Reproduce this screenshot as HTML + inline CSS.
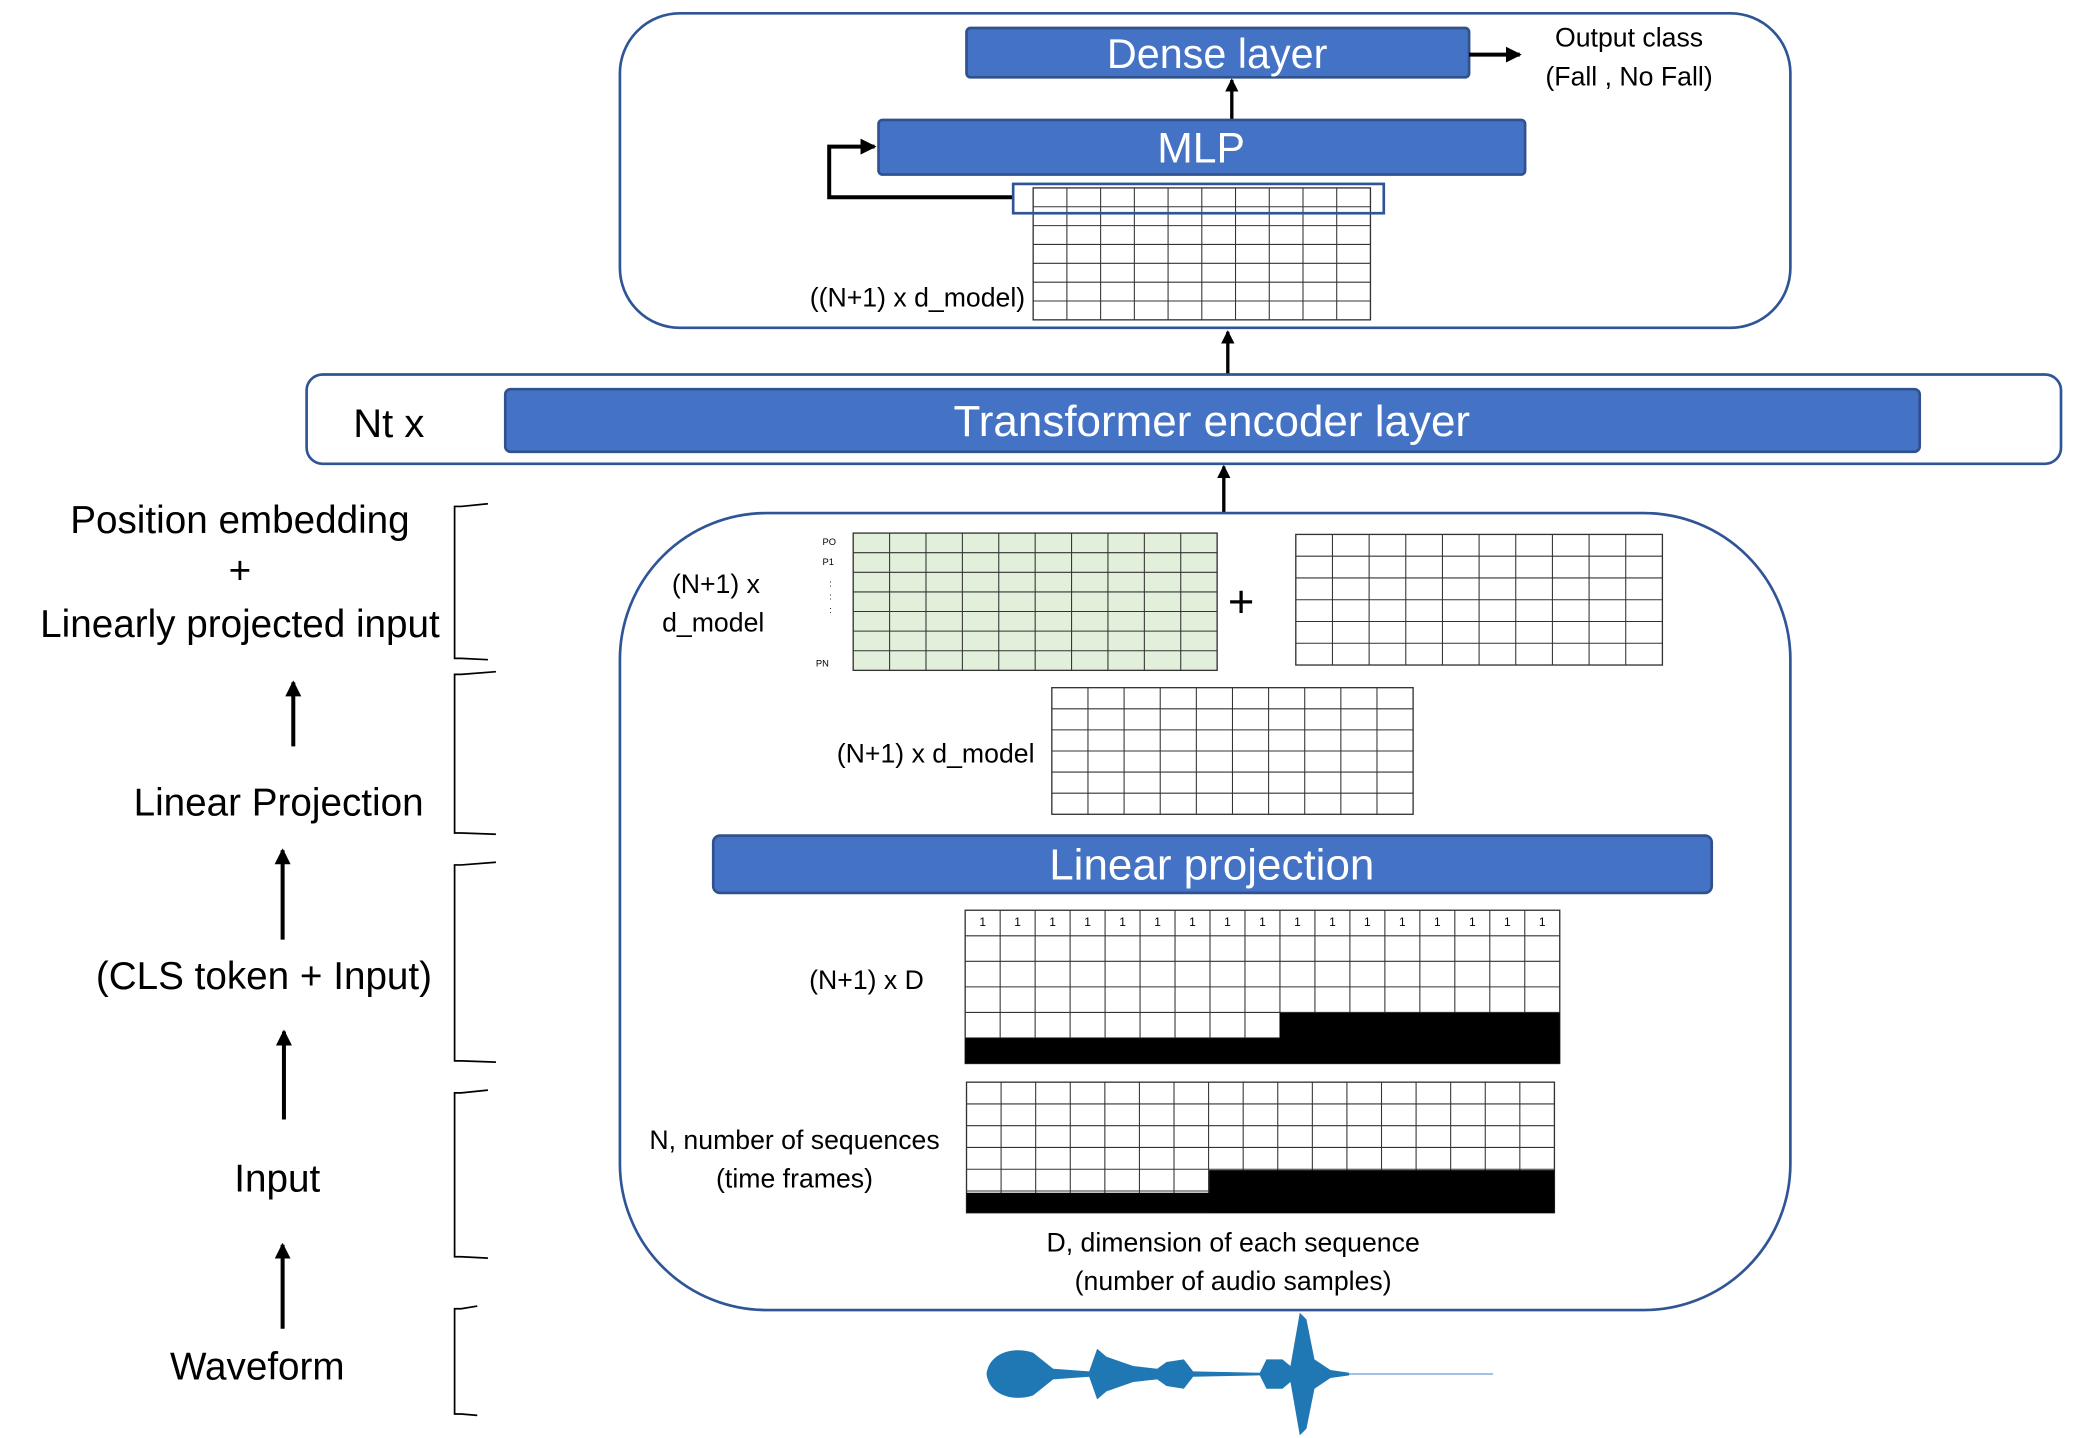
<!DOCTYPE html>
<html><head><meta charset="utf-8"><style>
html,body{margin:0;padding:0;background:#fff;}
svg{display:block}
text{font-family:"Liberation Sans",sans-serif;}
</style></head><body>
<svg id="s" width="2089" height="1438" viewBox="0 0 1567 1079" preserveAspectRatio="none" xmlns="http://www.w3.org/2000/svg">
<defs><marker id="ah" markerWidth="4" markerHeight="4" refX="3.5" refY="2" orient="auto" markerUnits="strokeWidth"><path d="M0,0 L4,2 L0,4 z" fill="#000"/></marker></defs>
<rect x="465" y="10" width="878" height="236" rx="45" fill="none" stroke="#2f5597" stroke-width="2"/>
<rect x="725" y="21" width="377" height="37" rx="3" fill="#4472c4" stroke="#2f528f" stroke-width="2"/>
<text x="913" y="51" font-size="31" fill="#fff" text-anchor="middle">Dense layer</text>
<line x1="1102" y1="41" x2="1140" y2="41" stroke="#000" stroke-width="3" marker-end="url(#ah)"/>
<text x="1222" y="35" font-size="20" text-anchor="middle">Output class</text>
<text x="1222" y="64" font-size="20" text-anchor="middle">(Fall , No Fall)</text>
<line x1="924" y1="90" x2="924" y2="60" stroke="#000" stroke-width="2.5" marker-end="url(#ah)"/>
<rect x="659" y="90" width="485" height="41" rx="3" fill="#4472c4" stroke="#2f528f" stroke-width="2"/>
<text x="901" y="122" font-size="32" fill="#fff" text-anchor="middle">MLP</text>
<polyline points="760,148 622,148 622,110 656,110" fill="none" stroke="#000" stroke-width="3" marker-end="url(#ah)"/>
<g id="g1"></g>
<rect x="760" y="138" width="278" height="22" fill="none" stroke="#2f5597" stroke-width="2"/>
<text x="769" y="230" font-size="20" text-anchor="end">((N+1) x d_model)</text>
<line x1="921" y1="281" x2="921" y2="249" stroke="#000" stroke-width="2.5" marker-end="url(#ah)"/>
<rect x="230" y="281" width="1316" height="67" rx="12" fill="none" stroke="#2f5597" stroke-width="2"/>
<text x="265" y="328" font-size="30">Nt  x</text>
<rect x="379" y="292" width="1061" height="47" rx="4" fill="#4472c4" stroke="#2f528f" stroke-width="2"/>
<text x="909" y="327" font-size="33" fill="#fff" text-anchor="middle">Transformer encoder layer</text>
<line x1="918" y1="385" x2="918" y2="350" stroke="#000" stroke-width="2.5" marker-end="url(#ah)"/>
<rect x="465" y="385" width="878" height="598" rx="110" fill="none" stroke="#2f5597" stroke-width="2"/>
<g id="g2"></g>
<text x="617" y="409" font-size="7">PO</text>
<text x="617" y="424" font-size="7">P1</text>
<text x="622" y="440" font-size="7">:</text><text x="622" y="450" font-size="7">:</text><text x="622" y="460" font-size="7">:</text>
<text x="612" y="500" font-size="7">PN</text>
<text x="537" y="445" font-size="20" text-anchor="middle">(N+1) x</text>
<text x="535" y="474" font-size="20" text-anchor="middle">d_model</text>
<text x="931" y="463" font-size="34" text-anchor="middle">+</text>
<text x="776" y="572" font-size="20" text-anchor="end">(N+1) x d_model</text>
<rect x="535" y="627" width="749" height="43" rx="5" fill="#4472c4" stroke="#2f528f" stroke-width="2"/>
<text x="909" y="660" font-size="33" fill="#fff" text-anchor="middle">Linear projection</text>
<text x="650" y="742" font-size="20" text-anchor="middle">(N+1) x D</text>
<text x="596" y="862" font-size="20" text-anchor="middle">N, number of sequences</text>
<text x="596" y="891" font-size="20" text-anchor="middle">(time frames)</text>
<text x="925" y="939" font-size="20" text-anchor="middle">D, dimension of each sequence</text>
<text x="925" y="968" font-size="20" text-anchor="middle">(number of audio samples)</text>
<line x1="1000" y1="1031" x2="1120" y2="1031" stroke="#9dc3e6" stroke-width="1.5"/>
<path fill="#1f77b4" d="M740,1031 C742,1015 760,1010 775,1015 L790,1027 L817,1029 L823,1012 L830,1018 L850,1025 L868,1027 L875,1022 L888,1020 L895,1029 L945,1030 L950,1020 L962,1020 L968,1025 L975,985 L980,990 L986,1020 L998,1028 L1012,1030 L1012,1032 L998,1034 L986,1042 L980,1072 L975,1077 L968,1037 L962,1042 L950,1042 L945,1032 L895,1033 L888,1042 L875,1040 L868,1035 L850,1037 L830,1044 L823,1050 L817,1033 L790,1035 L775,1047 C760,1052 742,1047 740,1031 z"/>
<g font-size="29" text-anchor="middle">
<text x="180" y="400">Position embedding</text>
<text x="180" y="438">+</text>
<text x="180" y="478">Linearly projected input</text>
<text x="209" y="612">Linear Projection</text>
<text x="198" y="742">(CLS token + Input)</text>
<text x="208" y="894">Input</text>
<text x="193" y="1035">Waveform</text>
</g>
<g stroke="#000" stroke-width="3">
<line x1="220" y1="560" x2="220" y2="512" marker-end="url(#ah)"/>
<line x1="212" y1="705" x2="212" y2="638" marker-end="url(#ah)"/>
<line x1="213" y1="840" x2="213" y2="774" marker-end="url(#ah)"/>
<line x1="212" y1="997" x2="212" y2="934" marker-end="url(#ah)"/>
</g>
<g fill="none" stroke="#000" stroke-width="1.3">
<path d="M366,378 L346,380 L341,380 L341,494 L346,494 L366,495"/>
<path d="M372,504 L346,506 L341,506 L341,625 L346,625 L372,626"/>
<path d="M372,647 L346,649 L341,649 L341,796 L346,796 L372,797"/>
<path d="M366,818 L346,820 L341,820 L341,943 L346,943 L366,944"/>
<path d="M358,980 L346,982 L341,982 L341,1061 L346,1061 L358,1062"/>
</g>
</svg>
<script>
var NS="http://www.w3.org/2000/svg";
function grid(par,x0,y0,x1,y1,c,r,fill){
 var g=document.getElementById(par);
 var re=document.createElementNS(NS,"rect");
 re.setAttribute("x",x0);re.setAttribute("y",y0);re.setAttribute("width",x1-x0);re.setAttribute("height",y1-y0);
 re.setAttribute("fill",fill);re.setAttribute("stroke","#333");re.setAttribute("stroke-width","1");g.appendChild(re);
 for(var i=1;i<c;i++){var x=x0+(x1-x0)*i/c;var l=document.createElementNS(NS,"line");l.setAttribute("x1",x);l.setAttribute("x2",x);l.setAttribute("y1",y0);l.setAttribute("y2",y1);l.setAttribute("stroke","#333");l.setAttribute("stroke-width","0.8");g.appendChild(l);}
 for(var j=1;j<r;j++){var y=y0+(y1-y0)*j/r;var l=document.createElementNS(NS,"line");l.setAttribute("x1",x0);l.setAttribute("x2",x1);l.setAttribute("y1",y);l.setAttribute("y2",y);l.setAttribute("stroke","#333");l.setAttribute("stroke-width","0.8");g.appendChild(l);}
}
function rect(par,x,y,w,h,f){var g=document.getElementById(par);var re=document.createElementNS(NS,"rect");re.setAttribute("x",x);re.setAttribute("y",y);re.setAttribute("width",w);re.setAttribute("height",h);re.setAttribute("fill",f);g.appendChild(re);}
grid("g1",775,141,1028,240,10,7,"#fff");
grid("g2",640,400,913,503,10,7,"#e2efda");
grid("g2",972,401,1247,499,10,6,"#fff");
grid("g2",789,516,1060,611,10,6,"#fff");
grid("g2",724,683,1170,798,17,6,"#fff");
rect("g2",960,760,210,38,"#000");rect("g2",724,779,446,19,"#000");
var g=document.getElementById("g2");
for(var i=0;i<17;i++){var t=document.createElementNS(NS,"text");t.setAttribute("x",724+(446/17)*(i+0.5));t.setAttribute("y",695);t.setAttribute("font-size","9");t.setAttribute("text-anchor","middle");t.setAttribute("font-family","Liberation Serif, serif");t.textContent="1";g.appendChild(t);}
grid("g2",725,812,1166,910,17,6,"#fff");
rect("g2",907,878,259,32,"#000");rect("g2",725,895,441,15,"#000");
</script>
</body></html>
